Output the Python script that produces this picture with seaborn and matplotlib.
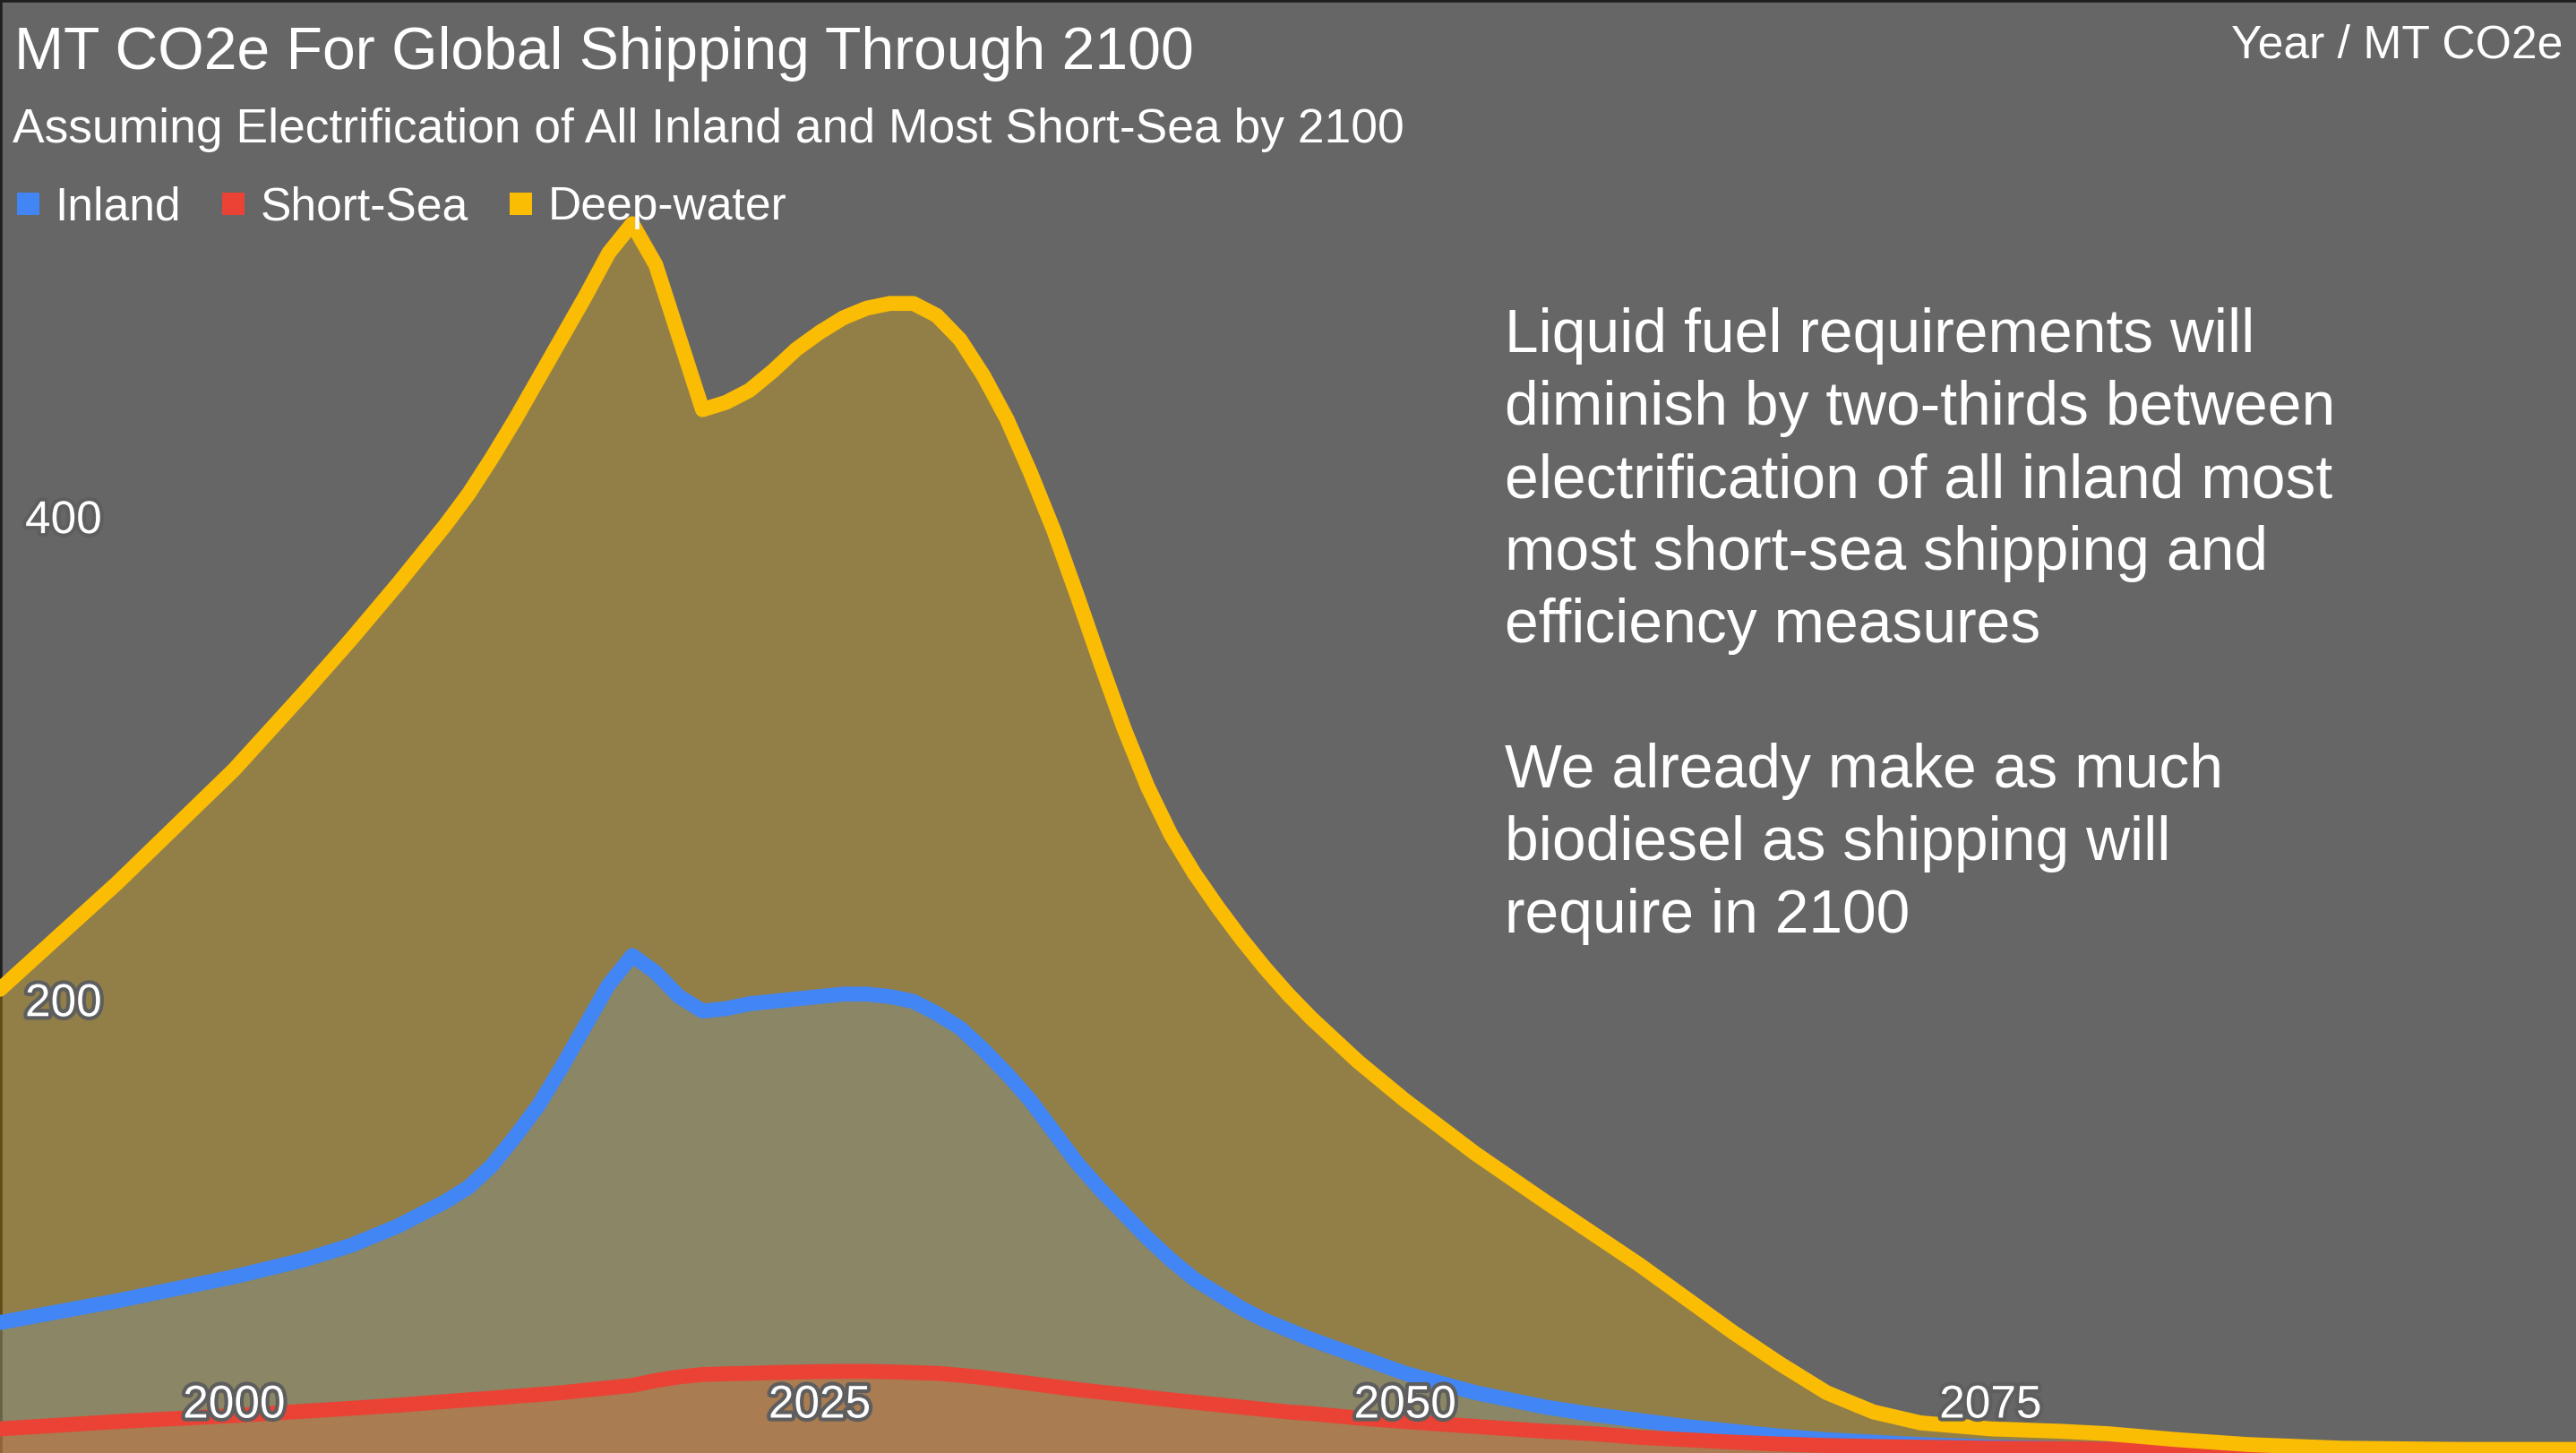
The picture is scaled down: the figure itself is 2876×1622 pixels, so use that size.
import matplotlib
matplotlib.use("Agg")
import matplotlib.pyplot as plt
import matplotlib.transforms as mtransforms
import matplotlib.patheffects as pe
from matplotlib.lines import Line2D
import seaborn as sns
import pandas as pd

# ---------------- data ----------------
years = [1990, 1995, 2000, 2003, 2005, 2007, 2009, 2010, 2011, 2012, 2013, 2014,
         2015, 2016, 2017, 2018, 2019, 2020, 2021, 2022, 2023, 2024, 2025, 2026,
         2027, 2028, 2029, 2030, 2031, 2032, 2033, 2034, 2035, 2036, 2037, 2038,
         2039, 2040, 2041, 2042, 2043, 2044, 2045, 2046, 2048, 2050, 2053, 2056,
         2058, 2060, 2062, 2064, 2066, 2068, 2070, 2072, 2075, 2078, 2080, 2083,
         2086, 2090, 2095, 2100]

inland = [54, 63, 73, 80, 86, 94, 104, 110, 119, 131, 144, 160,
          177, 194, 206, 199, 189, 183, 184, 186, 187, 188, 189, 190,
          190, 189, 187, 182, 176, 167, 157, 146, 133, 120, 109, 99,
          89, 80, 72, 66, 60, 55, 51, 47, 40, 33, 25, 19,
          16, 13.5, 11, 9, 7, 5.5, 4.5, 3.5, 2.5, 1.8, 1.5, 1,
          0.7, 0.5, 0.3, 0.2]

short_sea = [10, 13, 15.5, 17.3, 18.5, 19.8, 21.3, 22, 22.7, 23.5, 24.2, 25,
             26, 27, 28, 30, 31.5, 32.5, 32.8, 33, 33.3, 33.5, 33.7, 33.8,
             33.8, 33.6, 33.3, 33, 32.2, 31.2, 30, 28.8, 27.5, 26.3, 25.2, 24.2,
             23, 22, 21, 20, 19, 18, 17, 16.3, 14.5, 13, 11, 9,
             8, 6.5, 5.5, 4.5, 3.7, 3.1, 2.7, 2.4, 2, 1.8, 1.6, 1.3,
             1, 0.8, 0.6, 0.5]

deep_water = [192, 236, 283, 315, 337, 360, 384, 397, 412, 428, 445, 462,
              479, 497, 509, 492, 462, 432, 435, 440, 448, 457, 464, 470,
              474, 476, 476, 471, 461, 446, 428, 406, 382, 355, 327, 300,
              276, 256, 240, 226, 213, 201, 190, 180, 162, 146, 124, 104,
              91, 78, 64, 50, 37, 25, 17, 12.5, 10, 9, 8, 5.5,
              3.5, 2, 1.5, 1.5]

series_names = ["Inland", "Short-Sea", "Deep-water"]
x_ticks = [2000, 2025, 2050, 2075]
x_tick_labels = ["2000", "2025", "2050", "2075"]
y_ticks = [200, 400]
y_tick_labels = ["200", "400"]

title = "MT CO2e For Global Shipping Through 2100"
subtitle = "Assuming Electrification of All Inland and Most Short-Sea by 2100"
axis_note = "Year / MT CO2e"
annotation = ("Liquid fuel requirements will\n"
              "diminish by two-thirds between\n"
              "electrification of all inland most\n"
              "most short-sea shipping and\n"
              "efficiency measures\n"
              "\n"
              "We already make as much\n"
              "biodiesel as shipping will\n"
              "require in 2100")

# ---------------- style ----------------
colors = {"Inland": "#4285F4", "Short-Sea": "#EA4335", "Deep-water": "#FBBC04"}
BG = "#666666"
W, H, DPI = 2876, 1622, 200

df = pd.DataFrame({"Year": years, "Inland": inland,
                   "Short-Sea": short_sea, "Deep-water": deep_water})
long = df.melt(id_vars="Year", var_name="Series", value_name="MT")

sns.set_theme(style="white")
plt.rcParams["font.family"] = ["Liberation Sans", "DejaVu Sans"]

fig = plt.figure(figsize=(W / DPI, H / DPI), dpi=DPI, facecolor=BG)
ax = fig.add_axes([0, 0, 1, 1])
ax.set_facecolor(BG)
ax.set_axisbelow(False)

for name in series_names:
    ax.fill_between(df["Year"], 0, df[name], color=colors[name],
                    alpha=0.3, linewidth=0, zorder=1)

sns.lineplot(data=long, x="Year", y="MT", hue="Series", hue_order=series_names,
             palette=colors, linewidth=6.0, legend=False, ax=ax, sort=True,
             solid_joinstyle="round", solid_capstyle="round", zorder=3)

ax.set_xlim(1990, 2100)
ax.set_ylim(0, H / 2.696)
ax.set_xlabel("")
ax.set_ylabel("")

# borders (drawn beneath fills)
for side in ["bottom", "right"]:
    ax.spines[side].set_visible(False)
for side in ["left", "top"]:
    ax.spines[side].set_visible(True)
    ax.spines[side].set_color("#1e1e1e")
    ax.spines[side].set_linewidth(2.0)
    ax.spines[side].set_zorder(0.5)

halo = [pe.withStroke(linewidth=3, foreground="#5e5e5e")]

ax.set_xticks(x_ticks)
ax.set_xticklabels(x_tick_labels)
ax.set_yticks(y_ticks)
ax.set_yticklabels(y_tick_labels)
ax.tick_params(axis="both", length=0, pad=0, labelsize=18.5, labelcolor="white")
ax.xaxis.set_zorder(6)
ax.yaxis.set_zorder(6)

px = lambda p: p / DPI
for tick in ax.xaxis.get_major_ticks():
    lab = tick.label1
    lab.set_va("center")
    lab.set_ha("center")
    lab.set_transform(lab.get_transform() +
                      mtransforms.ScaledTranslation(0, px(53), fig.dpi_scale_trans))
    lab.set_path_effects(halo)
for tick in ax.yaxis.get_major_ticks():
    lab = tick.label1
    lab.set_va("center")
    lab.set_ha("left")
    lab.set_transform(lab.get_transform() +
                      mtransforms.ScaledTranslation(px(28), -px(38), fig.dpi_scale_trans))
    lab.set_path_effects(halo)

# texts
fig.text(16 / W, 1 - 60 / H, title, fontsize=23.8, color="white", ha="left", va="center")
fig.text(14 / W, 1 - 145 / H, subtitle, fontsize=19.22, color="white", ha="left", va="center")
fig.text(2861 / W, 1 - 51 / H, axis_note, fontsize=18.6, color="white", ha="right", va="center")
fig.text(1680 / W, 1 - 343 / H, annotation, fontsize=24.4, color="white",
         ha="left", va="top", linespacing=1.34)

# legend
handles = [Line2D([], [], marker="s", linestyle="none", markersize=9,
                  markerfacecolor=colors[n], markeredgewidth=0) for n in series_names]
fig.legend(handles, series_names, loc="center left",
           bbox_to_anchor=(15 / W, 1 - 232 / H), ncol=3, frameon=False,
           fontsize=18.6, handlelength=0.6, handletextpad=0.29,
           columnspacing=0.83, borderpad=0, borderaxespad=0, labelcolor="white")

fig.savefig("out.png", dpi=DPI, facecolor=BG)
